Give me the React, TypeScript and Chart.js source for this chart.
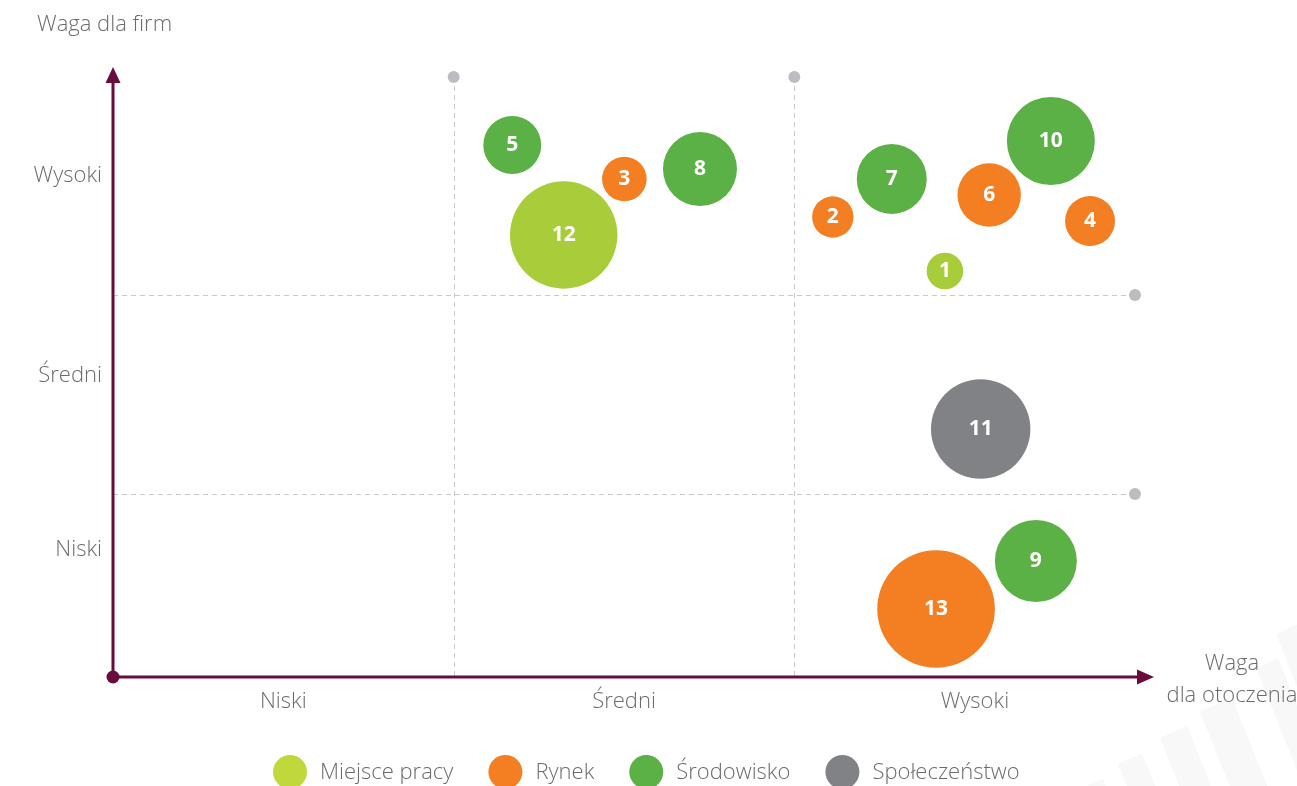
import { useEffect, useRef } from "react";
import { Chart, registerables } from "chart.js";

Chart.register(...registerables);

// ---- data ----
const seriesNames = ["Miejsce pracy", "Rynek", "Środowisko", "Społeczeństwo"];
const seriesColors = ["#a9cd3a", "#f47f22", "#5cb146", "#818285"];
const legendColors = ["#c1d83c", "#f47f22", "#5cb146", "#818285"];

// each point: n = number shown, x = waga dla otoczenia, y = waga dla firm, r = bubble size
const miejscePracy = [
  { n: 1, x: 2.442, y: 2.03, r: 18.3 },
  { n: 12, x: 1.323, y: 2.21, r: 53.7 },
];
const rynek = [
  { n: 2, x: 2.113, y: 2.3, r: 20.7 },
  { n: 3, x: 1.501, y: 2.49, r: 22.3 },
  { n: 4, x: 2.868, y: 2.28, r: 25 },
  { n: 6, x: 2.572, y: 2.41, r: 31.7 },
  { n: 13, x: 2.416, y: 0.34, r: 58.8 },
];
const srodowisko = [
  { n: 5, x: 1.172, y: 2.66, r: 29 },
  { n: 7, x: 2.286, y: 2.49, r: 35 },
  { n: 8, x: 1.723, y: 2.54, r: 37 },
  { n: 9, x: 2.709, y: 0.58, r: 41 },
  { n: 10, x: 2.753, y: 2.68, r: 44 },
];
const spoleczenstwo = [{ n: 11, x: 2.547, y: 1.24, r: 49.7 }];

const seriesData = [miejscePracy, rynek, srodowisko, spoleczenstwo];

const xTickLabels = ["Niski", "Średni", "Wysoki"];
const xTickValues = [0.5, 1.5, 2.53];
const yTickLabels = ["Niski", "Średni", "Wysoki"];
const yTickValues = [0.635, 1.505, 2.505];
const xGridValues = [1, 2];
const yGridValues = [0.915, 1.91];

const yTitle = "Waga dla firm";
const xTitleLines = ["Waga", "dla otoczenia"];

const AXIS_COLOR = "#6a0b3e";
const TEXT_COLOR = "#6a6b6e";
const GRID_COLOR = "#c9c9cb";
const DOT_COLOR = "#bdbdc1";
const FONT = '"Open Sans"';
const FONT_SIZE = 22;

// faint decorative stripes in the bottom-right corner: [top-left x, top-left y, width]
const stripes = [
  [1087, 786, 16],
  [1118, 764, 24],
  [1160, 738, 27],
  [1200, 712, 32],
  [1256, 668, 22],
  [1276, 634, 24],
];

const decorPlugin = {
  id: "decor",
  beforeDatasetsDraw(chart: any) {
    const { ctx, chartArea, scales } = chart;
    const { left, right, top, bottom } = chartArea;
    const xs = scales.x;
    const ys = scales.y;
    ctx.save();

    // faint stripes
    ctx.fillStyle = "#f8f8f8";
    stripes.forEach(([tx, ty, w]) => {
      const slope = 0.4;
      const h = 786 - ty;
      ctx.beginPath();
      ctx.moveTo(tx, ty);
      ctx.lineTo(tx + w, ty - w * 0.45);
      ctx.lineTo(tx + w + (h + w * 0.45) * slope, 786);
      ctx.lineTo(tx + h * slope, 786);
      ctx.closePath();
      ctx.fill();
    });

    // dashed grid
    ctx.strokeStyle = GRID_COLOR;
    ctx.lineWidth = 1;
    ctx.setLineDash([5, 4]);
    xGridValues.forEach((v) => {
      const px = Math.round(xs.getPixelForValue(v)) + 0.5;
      ctx.beginPath();
      ctx.moveTo(px, top);
      ctx.lineTo(px, bottom);
      ctx.stroke();
    });
    yGridValues.forEach((v) => {
      const py = Math.round(ys.getPixelForValue(v)) + 0.5;
      ctx.beginPath();
      ctx.moveTo(left, py);
      ctx.lineTo(right, py);
      ctx.stroke();
    });
    ctx.setLineDash([]);
    ctx.fillStyle = DOT_COLOR;
    xGridValues.forEach((v) => {
      const px = xs.getPixelForValue(v);
      ctx.beginPath();
      ctx.arc(px, top, 6, 0, Math.PI * 2);
      ctx.fill();
    });
    yGridValues.forEach((v) => {
      const py = ys.getPixelForValue(v);
      ctx.beginPath();
      ctx.arc(right, py, 6, 0, Math.PI * 2);
      ctx.fill();
    });

    // axes with arrows
    ctx.strokeStyle = AXIS_COLOR;
    ctx.fillStyle = AXIS_COLOR;
    ctx.lineWidth = 3;
    ctx.beginPath();
    ctx.moveTo(left, bottom);
    ctx.lineTo(left, top + 4);
    ctx.stroke();
    ctx.beginPath();
    ctx.moveTo(left, bottom);
    ctx.lineTo(right + 4, bottom);
    ctx.stroke();
    ctx.beginPath();
    ctx.moveTo(left, top - 10);
    ctx.lineTo(left - 7.5, top + 6);
    ctx.lineTo(left + 7.5, top + 6);
    ctx.closePath();
    ctx.fill();
    ctx.beginPath();
    ctx.moveTo(right + 19, bottom);
    ctx.lineTo(right + 2, bottom - 7.5);
    ctx.lineTo(right + 2, bottom + 7.5);
    ctx.closePath();
    ctx.fill();
    ctx.beginPath();
    ctx.arc(left, bottom, 6.5, 0, Math.PI * 2);
    ctx.fill();

    // titles
    ctx.fillStyle = TEXT_COLOR;
    ctx.font = `300 ${FONT_SIZE}px ${FONT}`;
    ctx.textBaseline = "middle";
    ctx.textAlign = "left";
    ctx.fillText(yTitle, 37, 25);
    ctx.textAlign = "center";
    ctx.fillText(xTitleLines[0], 1232, 664);
    ctx.fillText(xTitleLines[1], 1232, 696);

    // legend
    ctx.textAlign = "left";
    let lx = 273;
    const ly = 772;
    seriesNames.forEach((name, i) => {
      ctx.fillStyle = legendColors[i];
      ctx.beginPath();
      ctx.arc(lx + 17, ly, 17, 0, Math.PI * 2);
      ctx.fill();
      ctx.fillStyle = TEXT_COLOR;
      ctx.fillText(name, lx + 47, ly + 1);
      lx += 47 + ctx.measureText(name).width + 35;
    });
    ctx.restore();
  },
  afterDatasetsDraw(chart: any) {
    const { ctx } = chart;
    ctx.save();
    ctx.fillStyle = "#ffffff";
    ctx.font = `bold 21px "Open Sans"`;
    ctx.textAlign = "center";
    ctx.textBaseline = "middle";
    chart.data.datasets.forEach((ds: any, di: number) => {
      const meta = chart.getDatasetMeta(di);
      meta.data.forEach((el: any, i: number) => {
        ctx.fillText(String(ds.data[i].n), el.x, el.y);
      });
    });
    ctx.restore();
  },
};

export default function App() {
  const ref = useRef<HTMLCanvasElement | null>(null);
  useEffect(() => {
    if (!ref.current) return;
    const chart = new Chart(ref.current, {
      type: "bubble",
      data: {
        datasets: seriesNames.map((name, i) => ({
          label: name,
          data: seriesData[i],
          backgroundColor: seriesColors[i],
          borderWidth: 0,
          hoverBorderWidth: 0,
          clip: false as any,
        })),
      },
      options: {
        responsive: false,
        animation: false,
        events: [],
        layout: { padding: { left: 0, top: 77, right: 162, bottom: 0 } },
        plugins: {
          legend: { display: false },
          tooltip: { enabled: false },
        },
        scales: {
          x: {
            type: "linear",
            min: 0,
            max: 3,
            grid: { display: false, drawTicks: false },
            border: { display: false },
            afterBuildTicks: (s: any) => {
              s.ticks = xTickValues.map((v) => ({ value: v }));
            },
            afterFit: (s: any) => {
              s.height = 109;
            },
            ticks: {
              autoSkip: false,
              maxRotation: 0,
              padding: 12,
              color: TEXT_COLOR,
              font: { family: FONT, size: FONT_SIZE, weight: "300" as any },
              callback: (_v: any, i: number) => xTickLabels[i],
            },
          },
          y: {
            type: "linear",
            min: 0,
            max: 3,
            grid: { display: false, drawTicks: false },
            border: { display: false },
            afterBuildTicks: (s: any) => {
              s.ticks = yTickValues.map((v) => ({ value: v }));
            },
            afterFit: (s: any) => {
              s.width = 113;
            },
            ticks: {
              autoSkip: false,
              padding: 11,
              color: TEXT_COLOR,
              font: { family: FONT, size: FONT_SIZE, weight: "300" as any },
              callback: (_v: any, i: number) => yTickLabels[i],
            },
          },
        },
      },
      plugins: [decorPlugin],
    });
    return () => chart.destroy();
  }, []);
  return (
    <div style={{ position: "absolute", left: 0, top: 0, width: 1297, height: 786, background: "#fff" }}>
      <canvas ref={ref} width={1297} height={786} />
    </div>
  );
}
